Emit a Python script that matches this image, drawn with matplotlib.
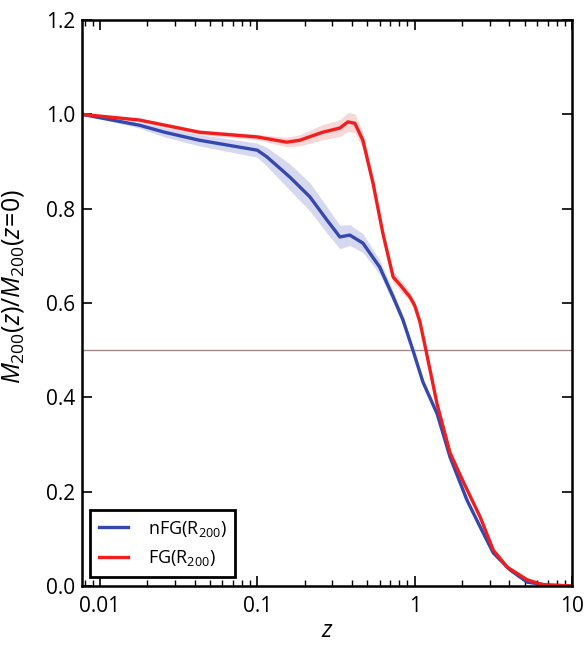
import numpy as np
import matplotlib
matplotlib.use("Agg")
import matplotlib.pyplot as plt
from matplotlib.ticker import FixedLocator, FixedFormatter, LogLocator, NullFormatter

plt.rcParams['font.family'] = ['Open Sans', 'DejaVu Sans']
plt.rcParams['mathtext.fontset'] = 'custom'
plt.rcParams['mathtext.rm'] = 'Open Sans'
plt.rcParams['mathtext.it'] = 'Open Sans:italic'

# nFG(R200): mass growth history normalised to z=0
z_nfg = [0.0077, 0.0178, 0.0258, 0.043, 0.1, 0.115, 0.161, 0.216, 0.277, 0.335,
         0.387, 0.469, 0.60, 0.73, 0.843, 0.975, 1.13, 1.39, 1.68, 2.15, 2.61,
         3.16, 4.04, 5.19, 6.9, 10.0]
m_nfg = [1.0, 0.977, 0.962, 0.945, 0.924, 0.910, 0.867, 0.825, 0.776, 0.740,
         0.744, 0.727, 0.676, 0.613, 0.564, 0.500, 0.432, 0.365, 0.273, 0.182, 0.125,
         0.070, 0.034, 0.008, 0.002, 0.0]
err_nfg = [0.0, 0.006, 0.010, 0.012, 0.015, 0.020, 0.028, 0.030, 0.028, 0.025,
           0.022, 0.020, 0.015, 0.012, 0.010, 0.008, 0.007, 0.006, 0.005, 0.005, 0.004,
           0.003, 0.003, 0.002, 0.001, 0.0]

# FG(R200)
z_fg = [0.0077, 0.0178, 0.043, 0.1, 0.154, 0.186, 0.26, 0.335, 0.377, 0.417,
        0.469, 0.544, 0.628, 0.73, 0.81, 0.933, 1.0, 1.08, 1.18, 1.39, 1.68, 2.03,
        2.61, 3.16, 3.87, 5.19, 6.6, 10.0]
m_fg = [1.0, 0.988, 0.962, 0.952, 0.941, 0.945, 0.962, 0.971, 0.984, 0.981,
        0.945, 0.854, 0.748, 0.655, 0.638, 0.613, 0.595, 0.560, 0.500, 0.385, 0.282, 0.222,
        0.146, 0.076, 0.040, 0.013, 0.002, 0.0]
err_fg = [0.0, 0.004, 0.005, 0.006, 0.010, 0.012, 0.016, 0.018, 0.020, 0.020,
          0.018, 0.014, 0.012, 0.012, 0.012, 0.010, 0.009, 0.008, 0.007, 0.006, 0.005, 0.004,
          0.003, 0.003, 0.002, 0.002, 0.001, 0.0]

half_mass = 0.5
y_ticks = [0.0, 0.2, 0.4, 0.6, 0.8, 1.0, 1.2]
x_ticks = [0.01, 0.1, 1, 10]
x_ticklabels = ['0.01', '0.1', '1', '10']

blue = '#3548b0'
red = '#f21d1d'

fig = plt.figure(figsize=(5.88, 6.46), dpi=100)
ax = fig.add_axes([0.1395, 0.093, 0.8333, 0.876])

zb, mb, eb = map(np.asarray, (z_nfg, m_nfg, err_nfg))
zr, mr, er = map(np.asarray, (z_fg, m_fg, err_fg))

ax.fill_between(zb, mb - eb, mb + eb, color='#c5c8ea', alpha=0.7, lw=0)
ax.fill_between(zr, mr - er, mr + er, color='#f7c6c6', alpha=0.7, lw=0)
ax.axhline(half_mass, color='#9e8b86', lw=1.0)
ax.plot(zb, mb, color=blue, lw=2.4, label=r'nFG(R$_{\mathrm{200}}$)',
        solid_joinstyle='round')
ax.plot(zr, mr, color=red, lw=2.4, label=r'FG(R$_{\mathrm{200}}$)',
        solid_joinstyle='round')

ax.set_xscale('log')
ax.set_xlim(0.0077, 10)
ax.set_ylim(0, 1.2)
ax.xaxis.set_major_locator(FixedLocator(x_ticks))
ax.xaxis.set_major_formatter(FixedFormatter(x_ticklabels))
ax.xaxis.set_minor_locator(LogLocator(base=10, subs=np.arange(2, 10)))
ax.xaxis.set_minor_formatter(NullFormatter())
ax.set_yticks(y_ticks)
ax.set_yticklabels(['%.1f' % v for v in y_ticks])

ax.tick_params(which='both', direction='in', top=True, right=True, labelsize=15,
               color='black')
ax.tick_params(which='major', length=7, width=1.2, pad=5)
ax.tick_params(axis='x', which='major', pad=7)
ax.tick_params(which='minor', length=4, width=1.0)
for sp in ax.spines.values():
    sp.set_linewidth(1.8)

ax.set_xlabel(r'$z$', fontsize=17)
ax.xaxis.set_label_coords(0.5, -0.058)
ax.set_ylabel(r'$M_{200}(z)/M_{200}(z\!=\!0)$', fontsize=18)
ax.yaxis.set_label_coords(-0.115, 0.53)

leg = ax.legend(loc='lower left', bbox_to_anchor=(0.016, 0.016), borderaxespad=0,
                fontsize=13, handlelength=1.6, handletextpad=1.1, fancybox=False,
                framealpha=1, edgecolor='black', borderpad=0.5, labelspacing=0.5)
leg.get_frame().set_linewidth(2.0)

fig.savefig('out.png', dpi=100)
